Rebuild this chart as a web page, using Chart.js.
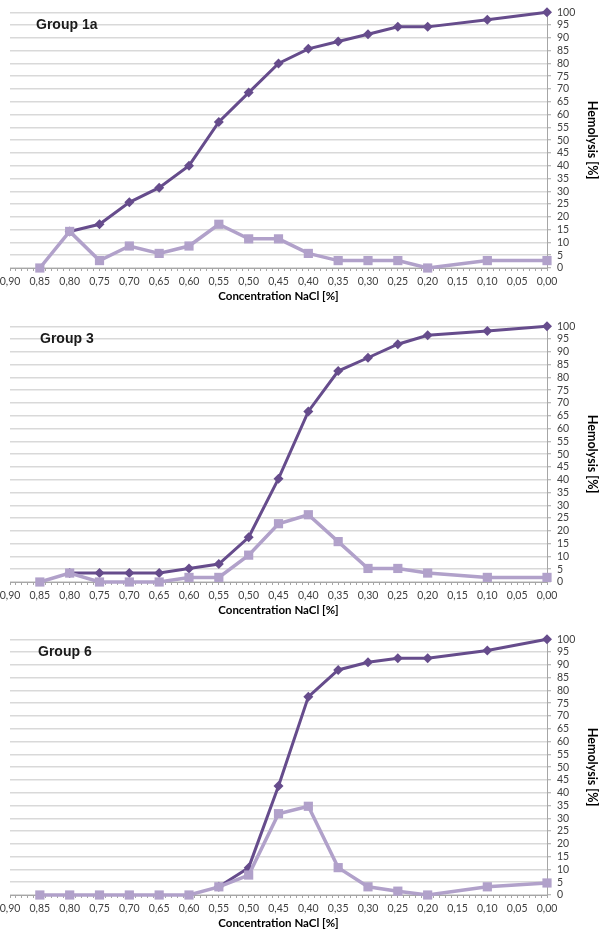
<!DOCTYPE html>
<html>
<head>
<meta charset="utf-8">
<script src="https://cdn.jsdelivr.net/npm/chart.js@4.4.0/dist/chart.umd.min.js"></script>
<style>
    html, body { margin: 0; padding: 0; background: #fff; overflow: hidden; }
    #wrap { position: relative; width: 600px; height: 930px; }
    #wrap canvas { position: absolute; left: 0; }
    .group-label {
        position: absolute;
        font-family: 'Liberation Sans', Arial, sans-serif;
        font-weight: bold;
        font-size: 14px;
        color: #1a1a1a;
    }
</style>
</head>
<body>
<div id="wrap">
    <canvas id="chart-1a" width="600" height="303" style="top:0px"></canvas>
    <canvas id="chart-3" width="600" height="303" style="top:314px"></canvas>
    <canvas id="chart-6" width="600" height="303" style="top:627px"></canvas>
    <div class="group-label" style="left:36px; top:16px">Group 1a</div>
    <div class="group-label" style="left:40px; top:330px">Group 3</div>
    <div class="group-label" style="left:38px; top:643px">Group 6</div>
</div>
<script>
'use strict';

// NaCl concentrations [%] (no measurement at 0,15 and 0,05)
var concentration = [0.85, 0.80, 0.75, 0.70, 0.65, 0.60, 0.55, 0.50, 0.45, 0.40, 0.35, 0.30, 0.25, 0.20, 0.10, 0.00];

// hemolysis [%] - dark line (diamonds) and light line (squares)
var group1aDark = [null, 14.3, 17.1, 25.7, 31.4, 40.0, 57.1, 68.6, 80.0, 85.7, 88.6, 91.4, 94.3, 94.3, 97.1, 100];
var group1aLight = [0, 14.3, 2.9, 8.6, 5.7, 8.6, 17.1, 11.4, 11.4, 5.7, 2.9, 2.9, 2.9, 0, 2.9, 2.9];

var group3Dark = [null, 3.5, 3.5, 3.5, 3.5, 5.3, 7.0, 17.5, 40.4, 66.7, 82.5, 87.7, 93.0, 96.5, 98.2, 100];
var group3Light = [0, 3.5, 0, 0, 0, 1.8, 1.8, 10.5, 22.8, 26.3, 15.8, 5.3, 5.3, 3.5, 1.8, 1.8];

var group6Dark = [null, null, null, null, null, null, 3.2, 10.7, 42.6, 77.5, 88.0, 91.0, 92.6, 92.6, 95.6, 100];
var group6Light = [0, 0, 0, 0, 0, 0, 3.2, 7.8, 31.8, 34.7, 10.7, 3.2, 1.5, 0, 3.2, 4.7];

var xTitle = 'Concentration NaCl [%]';
var yTitle = 'Hemolysis [%]';

var darkColor = '#664c8c';
var lightColor = '#b1a1ca';
var axisColor = '#a6a6a6';
var gridColor = '#d9d9d9';

const ticksStyle = {
    color: '#404040',
    font: {
        family: 'Lato',
        size: 10.5,
    },
};

function titleStyle(size) {
    return {
        display: true,
        color: '#000',
        font: {
            family: 'Lato',
            size: size,
            weight: 'bold',
        },
    };
}

function toPoints(values) {
    return concentration.map(function (c, i) {
        return { x: c, y: values[i] };
    });
}

function loadHemolysisChart(canvasId, darkValues, lightValues) {
    return new Chart(document.getElementById(canvasId), {
        type: 'line',
        data: {
            datasets: [
                {
                    // drawn on top
                    data: toPoints(lightValues),
                    borderColor: lightColor,
                    backgroundColor: lightColor,
                    borderWidth: 3.5,
                    pointStyle: 'rect',
                    pointRadius: 6.5,
                    pointBorderWidth: 0,
                    clip: false,
                },
                {
                    data: toPoints(darkValues),
                    borderColor: darkColor,
                    backgroundColor: darkColor,
                    borderWidth: 3,
                    pointStyle: 'rectRot',
                    pointRadius: 5,
                    pointBorderWidth: 0,
                    clip: false,
                },
            ],
        },
        options: {
            responsive: false,
            animation: false,
            layout: {
                padding: { top: 5, left: 0, right: 0, bottom: 0 },
            },
            scales: {
                x: {
                    type: 'linear',
                    reverse: true,
                    min: 0,
                    max: 0.9,
                    ticks: Object.assign({
                        stepSize: 0.01,
                        autoSkip: false,
                        maxRotation: 0,
                        padding: 4,
                        callback: function (value) {
                            var hundredths = Math.round(value * 100);
                            if (hundredths % 5 !== 0) {
                                return '';
                            }
                            return (hundredths / 100).toFixed(2).replace('.', ',');
                        },
                    }, ticksStyle),
                    grid: {
                        drawOnChartArea: false,
                        tickLength: 3,
                        tickColor: axisColor,
                    },
                    border: {
                        color: axisColor,
                        width: 1,
                    },
                    title: Object.assign({ text: xTitle, padding: { top: 0, bottom: 0 } }, titleStyle(11.5)),
                    afterFit: function (scale) {
                        scale.height = 35;
                        scale.paddingLeft = 10;
                    },
                },
                y: {
                    position: 'right',
                    min: 0,
                    max: 100,
                    ticks: Object.assign({
                        stepSize: 5,
                        autoSkip: false,
                        padding: 6,
                    }, ticksStyle),
                    grid: {
                        color: gridColor,
                        lineWidth: 1.5,
                        tickLength: 4,
                        tickColor: axisColor,
                        tickWidth: 1,
                    },
                    border: {
                        color: axisColor,
                        width: 1,
                    },
                    title: Object.assign({ text: yTitle, padding: { top: 0, bottom: 0 } }, titleStyle(12.5)),
                    afterFit: function (scale) {
                        scale.width = 53;
                    },
                },
            },
            plugins: {
                legend: { display: false },
                tooltip: { enabled: false },
            },
        },
    });
}

loadHemolysisChart('chart-1a', group1aDark, group1aLight);
loadHemolysisChart('chart-3', group3Dark, group3Light);
loadHemolysisChart('chart-6', group6Dark, group6Light);
</script>
</body>
</html>
